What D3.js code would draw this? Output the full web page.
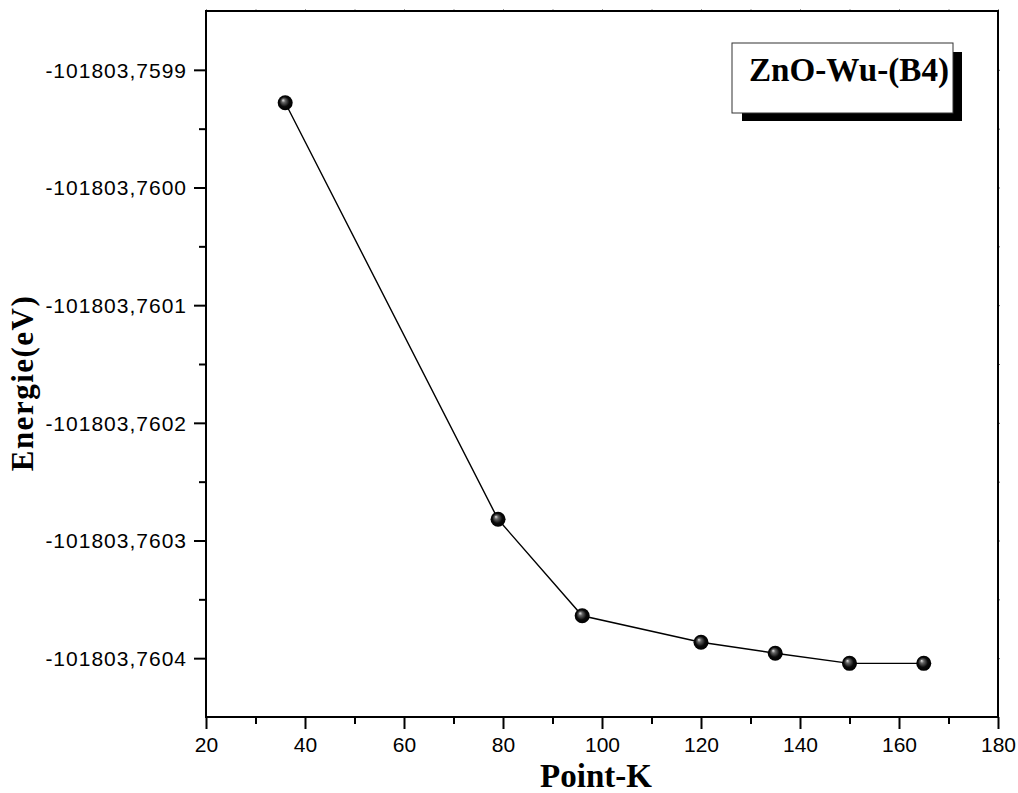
<!DOCTYPE html>
<html>
<head>
<meta charset="utf-8">
<script src="https://cdn.jsdelivr.net/npm/d3@7"></script>
<style>
  body { margin: 0; background: #fff; }
  svg { display: block; }
  .tick-y text { font-family: Arial, "Liberation Sans", sans-serif; font-size: 21px; letter-spacing: 1px; }
  .tick-x text { font-family: Arial, "Liberation Sans", sans-serif; font-size: 21px; }
  .title { font-family: "Times New Roman", "Liberation Serif", serif; font-weight: bold; }
</style>
</head>
<body>
<div id="chart-area"></div>
<script>
// data
const pointK = [36, 79, 96, 120, 135, 150, 165];
const energy = [-101803.759928, -101803.760282, -101803.760364, -101803.7603865, -101803.7603958, -101803.7604044, -101803.7604044];
const xTicks = [20, 40, 60, 80, 100, 120, 140, 160, 180];
const yTicks = [-101803.7599, -101803.7600, -101803.7601, -101803.7602, -101803.7603, -101803.7604];
const yTickLabels = ["-101803,7599", "-101803,7600", "-101803,7601", "-101803,7602", "-101803,7603", "-101803,7604"];
const legendLabel = "ZnO-Wu-(B4)";

const W = 1018, H = 793;
const margin = {top: 11, right: 20, bottom: 76, left: 206};
const width = W - margin.left - margin.right,
      height = H - margin.top - margin.bottom;

const svg = d3.select("#chart-area").append("svg")
    .attr("width", W)
    .attr("height", H);

const defs = svg.append("defs");
const grad = defs.append("radialGradient")
    .attr("id", "ball")
    .attr("cx", "50%").attr("cy", "50%").attr("r", "50%")
    .attr("fx", "35%").attr("fy", "32%");
grad.append("stop").attr("offset", "0%").attr("stop-color", "#e8e8e8");
grad.append("stop").attr("offset", "25%").attr("stop-color", "#666");
grad.append("stop").attr("offset", "65%").attr("stop-color", "#0a0a0a");
grad.append("stop").attr("offset", "100%").attr("stop-color", "#000");

const g = svg.append("g")
    .attr("transform", "translate(" + margin.left + "," + margin.top + ")");

const x = d3.scaleLinear().domain([20, 180]).range([0, width]);
const y = d3.scaleLinear().domain([-101803.76045, -101803.75985]).range([height, 0]);

// minor ticks, halfway between the major ones
const xMinor = d3.range(30, 180, 20);
const yMinor = yTicks.slice(0, -1).map(v => v - 0.00005);

g.append("g")
    .attr("class", "tick-x")
    .attr("transform", "translate(0," + height + ")")
    .call(d3.axisBottom(x).tickValues(xMinor).tickSize(7).tickFormat(""))
    .call(a => a.select(".domain").remove())
    .selectAll("line").attr("stroke-width", 2);

g.append("g")
    .attr("class", "tick-x")
    .attr("transform", "translate(0," + height + ")")
    .call(d3.axisBottom(x).tickValues(xTicks).tickSize(12).tickPadding(8).tickFormat(d3.format("d")))
    .call(a => a.select(".domain").remove())
    .call(a => a.selectAll("text").attr("fill", "#000"))
    .selectAll("line").attr("stroke-width", 2);

g.append("g")
    .attr("class", "tick-y")
    .call(d3.axisLeft(y).tickValues(yMinor).tickSize(7).tickFormat(""))
    .call(a => a.select(".domain").remove())
    .selectAll("line").attr("stroke-width", 2);

g.append("g")
    .attr("class", "tick-y")
    .call(d3.axisLeft(y).tickValues(yTicks).tickSize(12).tickPadding(7).tickFormat((d, i) => yTickLabels[i]))
    .call(a => a.select(".domain").remove())
    .call(a => a.selectAll("text").attr("fill", "#000").attr("dy", "0.35em"))
    .selectAll("line").attr("stroke-width", 2);

// faint ticks on top / right
g.append("g")
    .call(d3.axisTop(x).tickValues(d3.range(20, 181, 10)).tickSize(2).tickFormat(""))
    .call(a => a.select(".domain").remove())
    .selectAll("line").attr("stroke", "#999");
g.append("g")
    .attr("transform", "translate(" + width + ",0)")
    .call(d3.axisRight(y).tickValues(yTicks.concat(yMinor)).tickSize(2).tickFormat(""))
    .call(a => a.select(".domain").remove())
    .selectAll("line").attr("stroke", "#666");

// frame
g.append("rect")
    .attr("width", width)
    .attr("height", height)
    .attr("fill", "none")
    .attr("stroke", "#000")
    .attr("stroke-width", 2);

// line
const pts = pointK.map((k, i) => ({k: k, e: energy[i]}));
g.append("path")
    .datum(pts)
    .attr("fill", "none")
    .attr("stroke", "#000")
    .attr("stroke-width", 1.4)
    .attr("d", d3.line().x(d => x(d.k)).y(d => y(d.e)));

g.selectAll(".dot")
    .data(pts)
    .enter().append("circle")
    .attr("class", "dot")
    .attr("cx", d => x(d.k))
    .attr("cy", d => y(d.e))
    .attr("r", 7.5)
    .attr("fill", "url(#ball)");

// legend box with shadow
const lg = svg.append("g").attr("transform", "translate(732,43)");
lg.append("rect")
    .attr("x", 10).attr("y", 9)
    .attr("width", 220).attr("height", 69)
    .attr("fill", "#000");
lg.append("rect")
    .attr("width", 221).attr("height", 70)
    .attr("fill", "#fff")
    .attr("stroke", "#333")
    .attr("stroke-width", 1);
lg.append("text")
    .attr("class", "title")
    .attr("x", 17).attr("y", 38)
    .attr("font-size", 34)
    .attr("textLength", 200)
    .attr("lengthAdjust", "spacingAndGlyphs")
    .text(legendLabel);

// axis titles
svg.append("text")
    .attr("class", "title")
    .attr("x", margin.left + x(100) - 6)
    .attr("y", 787)
    .attr("text-anchor", "middle")
    .attr("font-size", 33)
    .text("Point-K");

svg.append("text")
    .attr("class", "title")
    .attr("transform", "translate(33," + 383 + ") rotate(-90)")
    .attr("text-anchor", "middle")
    .attr("font-size", 31)
    .attr("letter-spacing", 1.5)
    .text("Energie(eV)");
</script>
</body>
</html>
